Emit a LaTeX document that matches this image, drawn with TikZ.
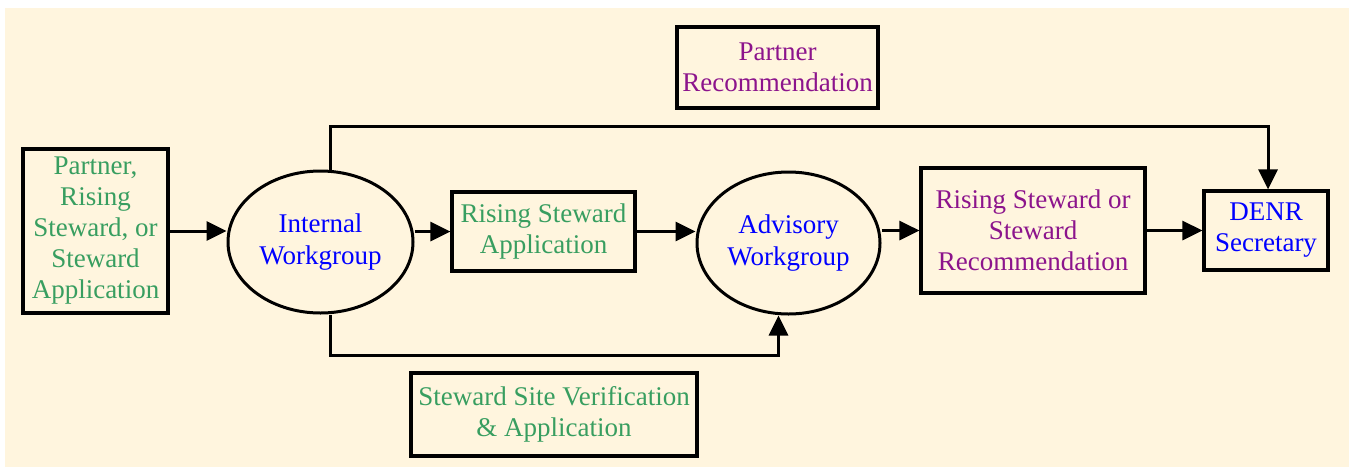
\documentclass[tikz,border=0pt]{standalone}
\usepackage{fontspec}
\setmainfont{Liberation Serif}
\usetikzlibrary{arrows.meta,shapes.geometric}
\definecolor{bgcream}{RGB}{255,245,222}
\definecolor{txtgreen}{RGB}{56,158,96}
\definecolor{txtblue}{RGB}{0,0,255}
\definecolor{txtpurple}{RGB}{140,20,140}
\tikzset{
  boxnode/.style={draw=black, line width=3.2pt, rectangle, inner sep=0pt, align=center,
    font=\fontsize{27}{31}\selectfont},
  ellnode/.style={draw=black, line width=3pt, ellipse, inner sep=0pt, align=center,
    font=\fontsize{27}{32}\selectfont},
  arr/.style={line width=3pt, -{Triangle[length=20pt,width=19pt]}}
}
\begin{document}
\begin{tikzpicture}[x=1pt,y=-1pt]
\useasboundingbox (0,0) rectangle (1349,467);
\fill[bgcream] (5,8) rectangle (1349,467);

\node[boxnode, text=txtgreen, minimum width=145pt, minimum height=164pt] (src) at (95.5,231) {Partner,\\Rising\\Steward, or\\Steward\\Application};
\node[ellnode, text=txtblue, minimum width=185pt, minimum height=142pt] (iw) at (320.5,242) {Internal\\Workgroup};
\node[boxnode, text=txtgreen, minimum width=183pt, minimum height=79pt] (rsa) at (543.5,231.5) {Rising Steward\\Application};
\node[ellnode, text=txtblue, minimum width=183pt, minimum height=142pt] (aw) at (788.5,243) {Advisory\\Workgroup};
\node[boxnode, text=txtpurple, minimum width=224pt, minimum height=125pt] (rsr) at (1033,230.5) {Rising Steward or\\Steward\\Recommendation};
\node[boxnode, text=txtblue, minimum width=124pt, minimum height=79pt] (denr) at (1266,230.5) {DENR\\Secretary};
\node[boxnode, text=txtpurple, minimum width=201pt, minimum height=81pt] (pr) at (777.5,67.5) {Partner\\Recommendation};
\node[boxnode, text=txtgreen, minimum width=286pt, minimum height=83pt] (ssv) at (554,414.5) {Steward Site Verification\\\& Application};

\draw[arr] (src.east) -- (src.east -| iw.west);
\draw[arr] (iw.east |- rsa.west) -- (rsa.west);
\draw[arr] (rsa.east) -- (rsa.east -| aw.west);
\draw[arr] (aw.east |- rsr.west) -- (rsr.west);
\draw[arr] (rsr.east) -- (rsr.east -| denr.west);
\draw[arr] ([xshift=10pt]iw.north) -- ++(0,-43) -| ([xshift=2pt]denr.north);
\draw[arr] ([xshift=10pt]iw.south) -- ++(0,41) -| ([xshift=-10pt]aw.south);
\end{tikzpicture}
\end{document}
